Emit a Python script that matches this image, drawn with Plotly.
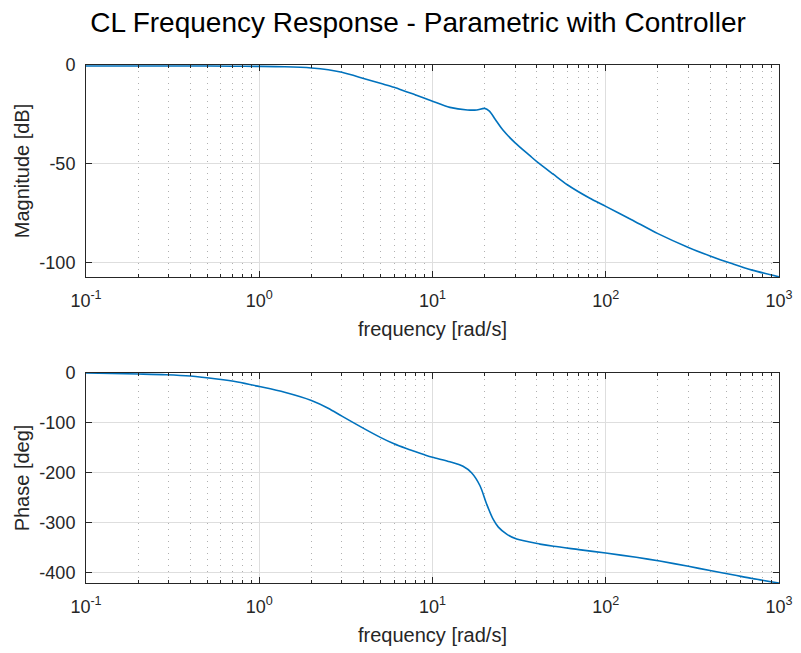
import plotly.graph_objects as go
from plotly.subplots import make_subplots

# Frequency [rad/s] sample points
freq_mag = [0.1, 0.2, 0.4, 0.7, 1.0, 1.4, 2.0, 2.5, 3.0, 4.0, 5.0, 6.0, 7.0, 8.0, 9.0, 10.0, 12.6, 15.9,
            18.0, 20.0, 21.3, 23.0, 25.5, 30.0, 36.5, 40.0, 50.0, 60.0, 80.0, 100.0, 140.0, 200.0, 300.0,
            400.0, 540.0, 700.0, 1000.0]
mag_db = [-0.5, -0.5, -0.5, -0.6, -0.7, -0.9, -1.5, -2.4, -3.7, -6.8, -9.3, -11.3, -13.4, -15.2, -16.9, -18.4,
          -21.5, -22.8, -22.8, -22.0, -23.4, -27.5, -33.0, -39.5, -46.0, -49.0, -55.5, -60.7, -67.3, -71.7,
          -78.3, -85.5, -92.5, -96.8, -100.8, -104.0, -107.4]

freq_ph = [0.1, 0.2, 0.29, 0.4, 0.57, 0.75, 1.0, 1.4, 2.0, 2.5, 3.0, 4.0, 5.0, 6.0, 7.0, 8.0, 9.0, 10.0,
           12.6, 15.0, 16.8, 18.8, 20.5, 22.3, 24.0, 26.8, 30.6, 41.7, 50.0, 70.0, 100.0, 150.0, 205.0,
           300.0, 400.0, 550.0, 700.0, 1000.0]
phase_deg = [0.0, -2.0, -3.4, -6.0, -12.0, -18.0, -27.0, -38.5, -55.0, -70.5, -86.5, -111.0, -129.0, -142.0,
             -151.0, -158.0, -164.0, -169.0, -178.0, -187.0, -200.0, -226.0, -262.0, -292.0, -309.0, -323.0,
             -333.0, -343.0, -347.5, -354.0, -361.0, -369.5, -377.0, -387.5, -396.0, -405.0, -412.0, -421.0]

x_tickvals = [0.1, 1, 10, 100, 1000]
x_ticktext = ["10<sup>-1</sup>", "10<sup>0</sup>", "10<sup>1</sup>", "10<sup>2</sup>", "10<sup>3</sup>"]
x_minor = [m * d for d in [0.1, 1, 10, 100] for m in range(2, 10)]

mag_ticks = [0, -50, -100]
phase_ticks = [0, -100, -200, -300, -400]

title_text = "CL Frequency Response - Parametric with Controller"
line_color = "#0072BD"
ax_color = "#262626"
grid_color = "#DEDEDE"
font_family = "Liberation Sans, Arial, sans-serif"

fig = make_subplots(rows=2, cols=1, vertical_spacing=0.185)

fig.add_trace(go.Scatter(x=freq_mag, y=mag_db, mode="lines",
                         line=dict(color=line_color, width=1.6, shape="spline", smoothing=0.8),
                         showlegend=False), row=1, col=1)
fig.add_trace(go.Scatter(x=freq_ph, y=phase_deg, mode="lines",
                         line=dict(color=line_color, width=1.6, shape="spline", smoothing=0.8),
                         showlegend=False), row=2, col=1)

xaxis_common = dict(
    type="log", range=[-1, 3], tickvals=x_tickvals, ticktext=x_ticktext, automargin=False,
    ticks="inside", ticklen=6, tickcolor=ax_color, showline=True, linecolor=ax_color, linewidth=1,
    mirror="allticks", showgrid=True, gridcolor=grid_color, gridwidth=1, zeroline=False,
    tickfont=dict(size=18, color=ax_color, family=font_family), ticklabelstandoff=7,
    minor=dict(tickvals=x_minor, ticks="inside", ticklen=3, tickcolor=ax_color,
               showgrid=True, gridcolor="#B0B0B0", griddash="1px,5px", gridwidth=1),
    title=dict(text="frequency [rad/s]", font=dict(size=20, color=ax_color, family=font_family), standoff=12),
)
fig.update_xaxes(**xaxis_common)

fig.update_yaxes(row=1, col=1, range=[-107.5, 0], tickvals=mag_ticks, ticktext=[str(v) for v in mag_ticks],
                 title=dict(text="Magnitude [dB]", font=dict(size=20, color=ax_color, family=font_family), standoff=4))
fig.update_yaxes(row=2, col=1, range=[-421, 0], tickvals=phase_ticks, ticktext=[str(v) for v in phase_ticks],
                 title=dict(text="Phase [deg]", font=dict(size=20, color=ax_color, family=font_family), standoff=4))
fig.update_yaxes(ticks="inside", ticklen=6, tickcolor=ax_color, showline=True, linecolor=ax_color, linewidth=1,
                 mirror="allticks", showgrid=True, gridcolor=grid_color, gridwidth=1, zeroline=False,
                 automargin=False,
                 tickfont=dict(size=18, color=ax_color, family=font_family), ticklabelstandoff=6)
fig.update_layout(yaxis=dict(domain=[0.5907, 1.0]), yaxis2=dict(domain=[0.0, 0.4054]))

fig.update_layout(
    width=801, height=653,
    margin=dict(l=86, r=22, t=65, b=70),
    paper_bgcolor="white", plot_bgcolor="white",
    title=dict(text=title_text, x=418 / 801, xanchor="center", y=1 - 22 / 653, yanchor="middle",
               font=dict(size=28, color="#000000", family=font_family)),
    font=dict(family=font_family, color=ax_color),
)

fig.write_html("out.html")
